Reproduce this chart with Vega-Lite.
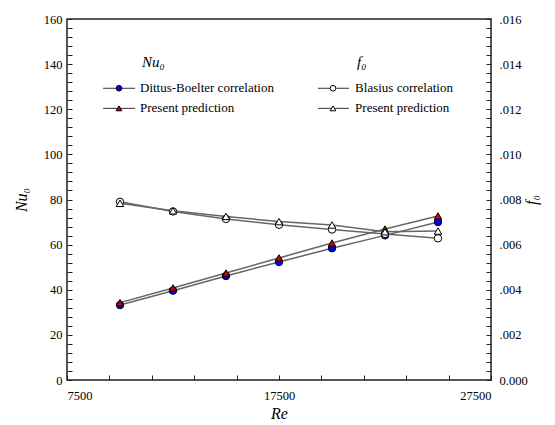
{
  "$schema": "https://vega.github.io/schema/vega-lite/v6.json",
  "width": 424,
  "height": 361,
  "autosize": {"type": "none"},
  "padding": {"left": 67, "top": 19, "right": 64, "bottom": 45},
  "background": "white",
  "config": {
    "font": "Liberation Serif",
    "view": {"stroke": "#222", "strokeWidth": 1.5},
    "axis": {
      "domain": false,
      "grid": false,
      "ticks": true,
      "tickColor": "#222",
      "tickWidth": 1,
      "tickSize": 5,
      "offset": -5,
      "labelOverlap": false,
      "labelFont": "Liberation Serif",
      "labelFontSize": 12.5,
      "labelColor": "black",
      "titleFont": "Liberation Serif",
      "titleFontStyle": "italic",
      "titleFontWeight": "normal",
      "titleFontSize": 16,
      "titleColor": "black"
    },
    "text": {"font": "Liberation Serif", "fontSize": 13, "color": "black"}
  },
  "datasets": {
    "main": [
      {"Re": 10000, "value": 33.2, "series": "Dittus-Boelter correlation", "group": "Nu"},
      {"Re": 12500, "value": 39.6, "series": "Dittus-Boelter correlation", "group": "Nu"},
      {"Re": 15000, "value": 46.1, "series": "Dittus-Boelter correlation", "group": "Nu"},
      {"Re": 17500, "value": 52.3, "series": "Dittus-Boelter correlation", "group": "Nu"},
      {"Re": 20000, "value": 58.4, "series": "Dittus-Boelter correlation", "group": "Nu"},
      {"Re": 22500, "value": 64.1, "series": "Dittus-Boelter correlation", "group": "Nu"},
      {"Re": 25000, "value": 70.0, "series": "Dittus-Boelter correlation", "group": "Nu"},
      {"Re": 10000, "value": 34.3, "series": "Present prediction", "group": "Nu"},
      {"Re": 12500, "value": 40.8, "series": "Present prediction", "group": "Nu"},
      {"Re": 15000, "value": 47.4, "series": "Present prediction", "group": "Nu"},
      {"Re": 17500, "value": 54.1, "series": "Present prediction", "group": "Nu"},
      {"Re": 20000, "value": 60.7, "series": "Present prediction", "group": "Nu"},
      {"Re": 22500, "value": 66.9, "series": "Present prediction", "group": "Nu"},
      {"Re": 25000, "value": 72.7, "series": "Present prediction", "group": "Nu"},
      {"Re": 10000, "value": 0.0079, "series": "Blasius correlation", "group": "f"},
      {"Re": 12500, "value": 0.00747, "series": "Blasius correlation", "group": "f"},
      {"Re": 15000, "value": 0.00714, "series": "Blasius correlation", "group": "f"},
      {"Re": 17500, "value": 0.00688, "series": "Blasius correlation", "group": "f"},
      {"Re": 20000, "value": 0.00667, "series": "Blasius correlation", "group": "f"},
      {"Re": 22500, "value": 0.00647, "series": "Blasius correlation", "group": "f"},
      {"Re": 25000, "value": 0.00628, "series": "Blasius correlation", "group": "f"},
      {"Re": 10000, "value": 0.00783, "series": "Present prediction", "group": "f"},
      {"Re": 12500, "value": 0.0075, "series": "Present prediction", "group": "f"},
      {"Re": 15000, "value": 0.00725, "series": "Present prediction", "group": "f"},
      {"Re": 17500, "value": 0.00702, "series": "Present prediction", "group": "f"},
      {"Re": 20000, "value": 0.00687, "series": "Present prediction", "group": "f"},
      {"Re": 22500, "value": 0.00657, "series": "Present prediction", "group": "f"},
      {"Re": 25000, "value": 0.0066, "series": "Present prediction", "group": "f"}
    ],
    "legend": [
      {"legend": "Nu", "series": "Dittus-Boelter correlation"},
      {"legend": "Nu", "series": "Present prediction"},
      {"legend": "f", "series": "Blasius correlation"},
      {"legend": "f", "series": "Present prediction"}
    ]
  },
  "layer": [
    {
      "data": {"name": "main"},
      "transform": [{"filter": "datum.group === 'Nu'"}],
      "encoding": {
        "x": {
          "field": "Re",
          "type": "quantitative",
          "scale": {"domain": [7500, 27500], "nice": false, "zero": false},
          "axis": {
            "title": "Re",
            "format": "d",
            "values": [7500,8000,8500,9000,9500,10000,10500,11000,11500,12000,12500,13000,13500,14000,14500,15000,15500,16000,16500,17000,17500,18000,18500,19000,19500,20000,20500,21000,21500,22000,22500,23000,23500,24000,24500,25000,25500,26000,26500,27000,27500],
            "labelExpr": "datum.value % 2500 === 0 ? datum.label : ''",
            "labelOverlap": false,
            "labelPadding": 9,
            "titlePadding": 4
          }
        },
        "y": {
          "field": "value",
          "type": "quantitative",
          "scale": {"domain": [0, 160], "nice": false},
          "axis": {
            "title": "Nu₀",
            "orient": "left",
            "values": [0,4,8,12,16,20,24,28,32,36,40,44,48,52,56,60,64,68,72,76,80,84,88,92,96,100,104,108,112,116,120,124,128,132,136,140,144,148,152,156,160],
            "labelExpr": "datum.value % 20 === 0 ? datum.label : ''",
            "labelOverlap": false,
            "labelPadding": 5,
            "titlePadding": 14
          }
        }
      },
      "layer": [
        {
          "mark": {"type": "line", "stroke": "#666", "strokeWidth": 1.5},
          "encoding": {"detail": {"field": "series"}}
        },
        {
          "mark": {"type": "point", "filled": true, "stroke": "black", "strokeWidth": 1, "size": 55, "opacity": 1},
          "encoding": {
            "fill": {
              "field": "series",
              "type": "nominal",
              "scale": {"domain": ["Dittus-Boelter correlation", "Present prediction"], "range": ["#0000ee", "#d40000"]},
              "legend": null
            },
            "shape": {
              "field": "series",
              "type": "nominal",
              "scale": {"domain": ["Dittus-Boelter correlation", "Present prediction"], "range": ["circle", "triangle-up"]},
              "legend": null
            }
          }
        }
      ]
    },
    {
      "data": {"name": "main"},
      "transform": [{"filter": "datum.group === 'f'"}],
      "encoding": {
        "x": {"field": "Re", "type": "quantitative"},
        "y": {
          "field": "value",
          "type": "quantitative",
          "scale": {"domain": [0, 0.016], "nice": false},
          "axis": {
            "title": "f₀",
            "orient": "right",
            "titleAngle": 270,
            "values": [0,0.0004,0.0008,0.0012,0.0016,0.002,0.0024,0.0028,0.0032,0.0036,0.004,0.0044,0.0048,0.0052,0.0056,0.006,0.0064,0.0068,0.0072,0.0076,0.008,0.0084,0.0088,0.0092,0.0096,0.01,0.0104,0.0108,0.0112,0.0116,0.012,0.0124,0.0128,0.0132,0.0136,0.014,0.0144,0.0148,0.0152,0.0156,0.016],
            "labelExpr": "abs(datum.value*500 - round(datum.value*500)) < 1e-6 ? (datum.value === 0 ? '0.000' : replace(format(datum.value, '.3f'), '0.', '.')) : ''",
            "labelOverlap": false,
            "labelPadding": 8,
            "titlePadding": 12
          }
        }
      },
      "layer": [
        {
          "mark": {"type": "line", "stroke": "#666", "strokeWidth": 1.5},
          "encoding": {"detail": {"field": "series"}}
        },
        {
          "mark": {"type": "point", "filled": true, "fill": "white", "stroke": "black", "strokeWidth": 1, "size": 55, "opacity": 1},
          "encoding": {
            "shape": {
              "field": "series",
              "type": "nominal",
              "scale": {"domain": ["Blasius correlation", "Present prediction"], "range": ["circle", "triangle-up"]},
              "legend": null
            }
          }
        }
      ]
    },
    {
      "data": {"name": "legend"},
      "encoding": {
        "x": {"datum": 11040, "type": "quantitative"},
        "y": {"datum": 140.9, "type": "quantitative", "scale": {"domain": [0, 160], "nice": false}, "axis": null}
      },
      "layer": [
        {"transform": [{"filter": "datum.series === 'Dittus-Boelter correlation'"}], "mark": {"type": "text", "align": "left", "baseline": "middle", "font": "Liberation Serif", "fontStyle": "italic", "fontSize": 15, "text": "Nu₀"}, "encoding": {"x": {"datum": 11040}}},
        {"transform": [{"filter": "datum.series === 'Blasius correlation'"}], "mark": {"type": "text", "align": "left", "baseline": "middle", "font": "Liberation Serif", "fontStyle": "italic", "fontSize": 15, "text": "f₀"}, "encoding": {"x": {"datum": 21180}}},

        {"transform": [{"filter": "datum.legend === 'Nu' && datum.series === 'Dittus-Boelter correlation'"}], "mark": {"type": "rule", "stroke": "#333", "strokeWidth": 1}, "encoding": {"x": {"datum": 9200}, "x2": {"datum": 10710}, "y": {"datum": 129.3, "axis": null}}},
        {"transform": [{"filter": "datum.legend === 'Nu' && datum.series === 'Dittus-Boelter correlation'"}], "mark": {"type": "point", "shape": "circle", "filled": true, "fill": "#0000ee", "stroke": "black", "strokeWidth": 1, "size": 32, "opacity": 1}, "encoding": {"x": {"datum": 9953}, "y": {"datum": 129.3, "axis": null}}},
        {"transform": [{"filter": "datum.legend === 'Nu' && datum.series === 'Dittus-Boelter correlation'"}], "mark": {"type": "text", "align": "left", "baseline": "middle", "font": "Liberation Serif", "fontSize": 13}, "encoding": {"x": {"datum": 10943}, "y": {"datum": 129.3, "axis": null}, "text": {"field": "series"}}},

        {"transform": [{"filter": "datum.legend === 'Nu' && datum.series === 'Present prediction'"}], "mark": {"type": "rule", "stroke": "#333", "strokeWidth": 1}, "encoding": {"x": {"datum": 9200}, "x2": {"datum": 10710}, "y": {"datum": 120.4, "axis": null}}},
        {"transform": [{"filter": "datum.legend === 'Nu' && datum.series === 'Present prediction'"}], "mark": {"type": "point", "shape": "triangle-up", "filled": true, "fill": "#d40000", "stroke": "black", "strokeWidth": 1, "size": 32, "opacity": 1}, "encoding": {"x": {"datum": 9953}, "y": {"datum": 120.4, "axis": null}}},
        {"transform": [{"filter": "datum.legend === 'Nu' && datum.series === 'Present prediction'"}], "mark": {"type": "text", "align": "left", "baseline": "middle", "font": "Liberation Serif", "fontSize": 13}, "encoding": {"x": {"datum": 10943}, "y": {"datum": 120.4, "axis": null}, "text": {"field": "series"}}},

        {"transform": [{"filter": "datum.legend === 'f' && datum.series === 'Blasius correlation'"}], "mark": {"type": "rule", "stroke": "#333", "strokeWidth": 1}, "encoding": {"x": {"datum": 19340}, "x2": {"datum": 20800}, "y": {"datum": 129.3, "axis": null}}},
        {"transform": [{"filter": "datum.legend === 'f' && datum.series === 'Blasius correlation'"}], "mark": {"type": "point", "shape": "circle", "filled": true, "fill": "white", "stroke": "black", "strokeWidth": 1, "size": 32, "opacity": 1}, "encoding": {"x": {"datum": 20047}, "y": {"datum": 129.3, "axis": null}}},
        {"transform": [{"filter": "datum.legend === 'f' && datum.series === 'Blasius correlation'"}], "mark": {"type": "text", "align": "left", "baseline": "middle", "font": "Liberation Serif", "fontSize": 13}, "encoding": {"x": {"datum": 21090}, "y": {"datum": 129.3, "axis": null}, "text": {"field": "series"}}},

        {"transform": [{"filter": "datum.legend === 'f' && datum.series === 'Present prediction'"}], "mark": {"type": "rule", "stroke": "#333", "strokeWidth": 1}, "encoding": {"x": {"datum": 19340}, "x2": {"datum": 20800}, "y": {"datum": 120.4, "axis": null}}},
        {"transform": [{"filter": "datum.legend === 'f' && datum.series === 'Present prediction'"}], "mark": {"type": "point", "shape": "triangle-up", "filled": true, "fill": "white", "stroke": "black", "strokeWidth": 1, "size": 32, "opacity": 1}, "encoding": {"x": {"datum": 20047}, "y": {"datum": 120.4, "axis": null}}},
        {"transform": [{"filter": "datum.legend === 'f' && datum.series === 'Present prediction'"}], "mark": {"type": "text", "align": "left", "baseline": "middle", "font": "Liberation Serif", "fontSize": 13}, "encoding": {"x": {"datum": 21090}, "y": {"datum": 120.4, "axis": null}, "text": {"field": "series"}}}
      ]
    }
  ],
  "resolve": {"scale": {"y": "independent", "shape": "independent", "fill": "independent"}}
}
